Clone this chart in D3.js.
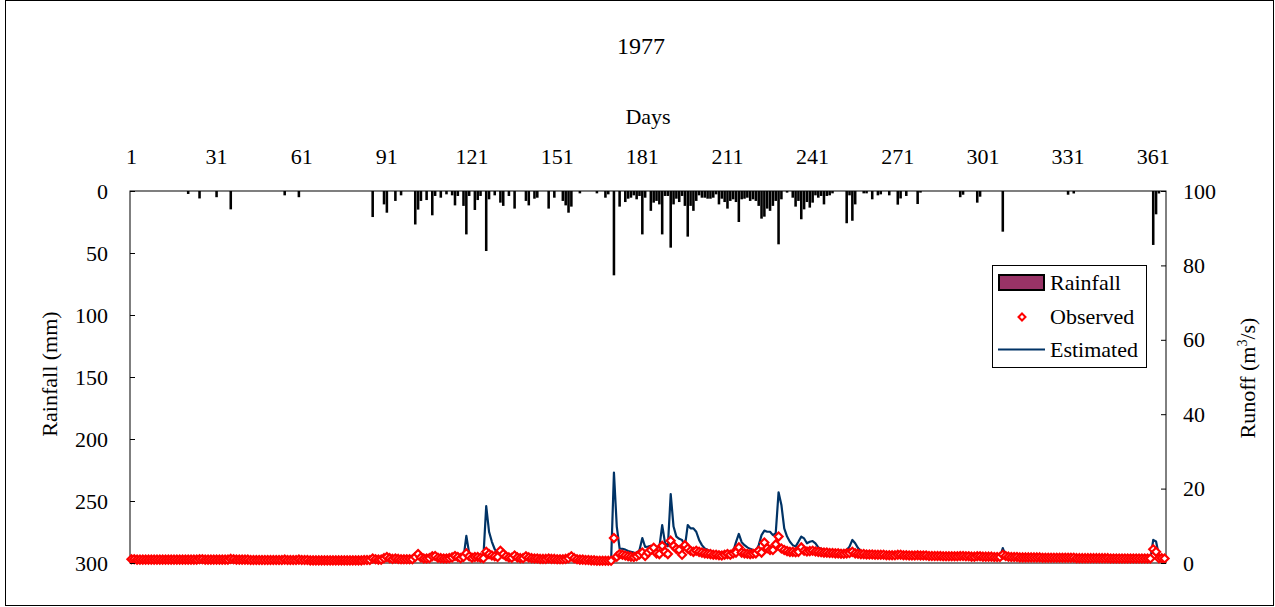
<!DOCTYPE html>
<html><head><meta charset="utf-8">
<script src="https://cdn.jsdelivr.net/npm/d3@7"></script>
<style>
body{margin:0;background:#fff}
svg{display:block}
text{font-family:"Liberation Serif","Times New Roman",serif;fill:#000}
</style>
</head><body>
<svg id="c" width="1275" height="607"></svg>
<script>
// ---------------- DATA ----------------
const title = "1977";
const dayTicks = [1,31,61,91,121,151,181,211,241,271,301,331,361];
const rainTicks = [0,50,100,150,200,250,300];
const runoffTicks = [0,20,40,60,80,100];

// daily rainfall (mm): days with rain and their depth
const rainDays = [21,25,31,36,55,60,86,90,91,94,96,101,102,103,105,107,108,110,112,114,115,116,118,119,120,122,123,124,126,127,129,131,132,134,136,140,141,143,144,148,150,153,154,155,156,159,165,168,169,171,173,175,176,177,178,179,180,181,182,184,185,186,187,188,189,190,191,192,193,194,195,196,197,198,199,200,201,202,203,204,205,206,207,208,209,210,211,212,213,214,215,216,217,218,219,220,221,222,223,224,225,226,227,228,229,230,232,234,235,236,237,238,239,240,241,242,243,244,245,246,247,248,253,254,255,256,259,260,262,264,265,268,271,272,274,278,279,293,294,299,300,308,331,333,361,362,363];
const rainMm = [2.4,6,5,14.8,3.5,5,21,10.8,17.5,8,3.5,27,15,8,7.3,19.6,4,5.4,2.7,3.5,11.6,4,12,35,4,15.3,7.3,4,48.4,6.7,3.5,9.4,12,4,14.2,8,11.6,6.2,5.4,14.2,5.4,8,11.6,17.5,12.6,1.9,1.9,5.4,2.7,68,12.6,8.9,6.2,5.4,3.5,6.7,4,35,5.4,16,9.4,8,10.8,35,4,4,45.7,10.8,6.2,8.9,4,12,36.8,12,16,8,3.5,5.4,5.4,6.2,6.2,5.4,2.7,10.8,6.2,8.9,14.2,8,6.7,8.9,25,6.7,6.2,5.4,8,6.7,8,12,22.3,20.7,14.2,16,12,8,43,6.7,1.3,5.4,12.6,8,22.8,14.8,8.9,13.4,9.4,3.5,5.4,4,10.8,4,3.5,1.9,26,3.5,24,10.8,1.9,1.9,6.7,3.5,2.7,3.5,11,6,4,10.5,1.3,5,3,9.4,4.6,32.8,3,2,43.5,18.8,2];

// observed runoff (m3/s), days 1..365
const observed = [
1.0,1.0,0.9,0.9,0.9,0.9,0.9,0.9,0.9,0.9,
0.9,0.9,0.9,0.9,0.9,0.9,0.9,0.9,0.9,0.9,
0.9,0.9,0.9,0.9,1.0,1.0,0.9,0.9,0.9,0.9,
0.9,0.9,0.9,0.9,0.9,1.1,1.0,0.9,0.9,0.9,
0.9,0.9,0.8,0.8,0.8,0.8,0.8,0.8,0.8,0.8,
0.8,0.8,0.8,0.8,0.9,0.8,0.8,0.8,0.8,0.9,
0.8,0.8,0.8,0.7,0.7,0.7,0.7,0.7,0.7,0.7,
0.7,0.7,0.7,0.7,0.7,0.7,0.7,0.7,0.7,0.7,
0.7,0.7,0.8,0.8,0.8,1.2,1.0,0.9,0.9,1.3,
1.6,1.3,1.1,1.2,1.1,1.0,1.0,1.0,1.0,1.0,
1.6,2.4,1.5,1.2,1.2,1.3,1.8,1.9,1.4,1.3,
1.2,1.2,1.3,1.5,1.9,1.6,1.3,1.6,2.6,1.8,
1.4,1.6,1.6,1.4,1.3,3.0,2.4,2.0,1.8,1.6,
3.3,2.4,1.8,1.5,1.4,2.0,1.5,1.3,1.3,1.8,
1.5,1.3,1.2,1.2,1.1,1.1,1.1,1.2,1.1,1.1,
1.0,1.0,1.0,1.1,1.3,1.8,1.3,1.0,0.9,0.9,
0.8,0.8,0.7,0.7,0.6,0.6,0.6,0.6,0.6,0.6,
6.7,1.7,2.4,2.2,2.0,1.8,1.7,1.6,1.8,2.3,
2.8,1.9,2.8,3.5,4.1,2.6,2.4,4.6,3.0,2.4,
6.0,4.6,3.8,3.5,2.2,4.8,3.9,3.3,3.0,3.3,
3.0,2.8,2.6,2.5,2.4,2.2,2.2,2.1,2.0,2.2,
2.4,2.2,2.6,2.8,4.2,2.8,2.6,2.5,2.4,2.5,
2.6,3.3,2.8,5.5,4.0,3.5,3.5,5.0,7.1,3.9,
3.5,3.2,3.0,3.0,2.9,3.0,4.2,3.3,3.1,3.2,
3.3,3.1,3.0,2.9,2.8,2.8,2.7,2.7,2.6,2.6,
2.5,2.5,2.6,2.7,3.0,2.6,2.5,2.4,2.4,2.3,
2.3,2.3,2.2,2.2,2.2,2.2,2.1,2.1,2.1,2.1,
2.2,2.2,2.1,2.1,2.0,2.0,2.0,2.1,2.0,2.0,
2.0,1.9,1.9,1.9,1.9,1.9,1.8,1.8,1.8,1.8,
1.8,1.8,1.9,1.9,1.8,1.8,1.7,1.7,1.8,1.8,
1.7,1.7,1.7,1.7,1.6,1.6,1.6,2.2,1.9,1.7,
1.6,1.6,1.6,1.5,1.5,1.5,1.5,1.5,1.5,1.5,
1.5,1.4,1.4,1.4,1.4,1.4,1.4,1.4,1.4,1.4,
1.4,1.4,1.4,1.3,1.3,1.3,1.3,1.3,1.3,1.3,
1.3,1.3,1.3,1.3,1.3,1.2,1.2,1.2,1.2,1.2,
1.2,1.2,1.2,1.2,1.2,1.2,1.2,1.2,1.2,1.2,
3.7,3.0,1.3,1.3,1.2];

// estimated runoff (m3/s), days 1..365
const estimated = [
0.9,0.9,0.9,0.9,0.9,0.9,0.9,0.9,0.9,0.9,
0.9,0.9,0.9,0.9,0.9,0.9,0.9,0.9,0.9,0.9,
0.9,0.9,0.9,0.9,1.0,0.9,0.9,0.9,0.9,0.9,
0.9,0.9,0.9,0.9,0.9,1.2,1.0,0.9,0.9,0.9,
0.8,0.8,0.8,0.8,0.8,0.8,0.8,0.8,0.8,0.8,
0.8,0.8,0.8,0.8,0.9,0.8,0.8,0.8,0.8,0.9,
0.8,0.7,0.7,0.7,0.7,0.7,0.7,0.7,0.7,0.7,
0.7,0.7,0.7,0.7,0.7,0.7,0.7,0.7,0.7,0.7,
0.7,0.7,0.7,0.7,0.7,1.3,0.9,0.8,0.8,1.2,
1.7,1.2,1.0,1.2,1.0,1.0,0.9,0.9,0.9,0.9,
1.8,3.3,1.6,1.2,1.3,1.2,1.8,1.5,1.2,1.3,
1.1,1.1,1.1,1.2,1.6,1.3,1.1,1.4,7.3,2.6,
1.8,1.7,1.5,1.3,1.5,15.3,8.4,5.7,3.7,2.6,
2.2,1.9,1.6,1.4,1.3,1.6,1.3,1.2,1.1,1.3,
1.3,1.1,1.1,1.1,1.0,1.0,1.0,1.2,1.0,1.0,
0.9,0.9,0.9,1.0,1.2,1.5,1.1,0.9,0.8,0.8,
0.7,0.7,0.6,0.6,0.6,0.5,0.6,0.6,0.5,0.5,
24.3,9.8,3.9,3.8,3.6,3.2,3.0,2.8,2.7,3.5,
6.7,4.3,4.4,4.6,4.5,4.3,4.2,10.2,5.4,4.5,
18.5,9.8,7.1,6.5,6.2,4.4,10.2,9.3,9.3,8.4,
6.2,4.8,3.9,3.5,3.2,3.0,2.9,2.8,2.8,2.8,
2.8,2.9,3.0,5.6,7.8,5.6,4.8,4.2,3.8,3.5,
3.3,4.8,7.5,8.7,8.4,8.4,7.5,8.0,19.0,15.6,
9.3,7.1,5.7,4.8,4.4,5.7,7.1,6.6,5.3,5.7,
5.9,5.3,4.2,3.8,3.5,3.3,3.2,3.1,3.0,3.0,
3.0,3.0,3.5,4.4,6.2,5.3,4.0,3.2,2.9,2.7,
2.6,2.6,2.5,2.5,2.4,2.4,2.3,2.3,2.2,2.2,
2.3,2.3,2.2,2.2,2.1,2.1,2.0,2.1,2.0,2.0,
1.9,1.9,1.9,1.9,1.8,1.8,1.8,1.8,1.8,1.8,
1.8,1.7,1.8,1.8,1.7,1.7,1.7,1.7,1.8,1.8,
1.7,1.6,1.6,1.6,1.6,1.5,1.6,4.0,1.9,1.7,
1.5,1.5,1.5,1.5,1.5,1.4,1.4,1.4,1.4,1.4,
1.4,1.4,1.4,1.3,1.3,1.3,1.3,1.3,1.3,1.3,
1.3,1.3,1.3,1.3,1.2,1.2,1.2,1.2,1.2,1.2,
1.2,1.2,1.2,1.2,1.2,1.2,1.2,1.1,1.1,1.1,
1.1,1.1,1.1,1.1,1.1,1.1,1.1,1.1,1.1,1.1,
6.2,5.8,2.0,1.6,1.5];

const legendLabels = ["Rainfall","Observed","Estimated"];

// ---------------- CHART ----------------
(function () {
const days = d3.range(1, 366);
const svg = d3.select('#c');
const L = 130, R = 1166, T = 191, B = 563;

const x = d3.scaleBand().domain(days).range([L, R]).padding(0);
const bw = x.bandwidth();
const yRain = d3.scaleLinear().domain([0, 300]).range([T, B]);
const yRun = d3.scaleLinear().domain([0, 100]).range([B, T]);

// outer frame
svg.append('rect').attr('x', 5.5).attr('y', 0.5).attr('width', 1268).attr('height', 605)
  .attr('fill', 'none').attr('stroke', '#000').attr('stroke-width', 1);

// plot frame
svg.append('rect').attr('x', L).attr('y', T).attr('width', R - L).attr('height', B - T)
  .attr('fill', 'none').attr('stroke', '#000').attr('stroke-width', 1);

// rainfall bars
const rain = rainDays.map((d, i) => ({day: d, v: rainMm[i]}));
svg.append('g').selectAll('rect').data(rain).join('rect')
  .attr('x', d => x(d.day) + bw * 0.05)
  .attr('width', bw * 0.9)
  .attr('y', T)
  .attr('height', d => yRain(d.v) - T)
  .attr('fill', '#000');

// estimated line
const line = d3.line().x((d, i) => x(days[i]) + bw / 2).y(d => yRun(d));
svg.append('path').datum(estimated).attr('d', line)
  .attr('fill', 'none').attr('stroke', '#003366').attr('stroke-width', 2.2)
  .attr('stroke-linejoin', 'round');

// observed diamonds
const dia = 'M0,-4L4,0L0,4L-4,0Z';
svg.append('g').selectAll('path').data(observed).join('path')
  .attr('d', dia)
  .attr('transform', (d, i) => `translate(${x(days[i]) + bw / 2},${yRun(d)})`)
  .attr('fill', '#fff').attr('stroke', '#ff0000').attr('stroke-width', 2.2);

// axes
const fs = '22px';
const gTop = svg.append('g').attr('transform', `translate(0,${T})`)
  .call(d3.axisTop(x).tickValues(dayTicks).tickSize(0).tickPadding(27));
gTop.select('.domain').remove();
gTop.selectAll('text').style('font-size', fs).style('font-family', '"Liberation Serif",serif');

const gLeft = svg.append('g').attr('transform', `translate(${L},0)`)
  .call(d3.axisLeft(yRain).tickValues(rainTicks).tickSizeInner(-5).tickSizeOuter(0).tickPadding(22));
gLeft.select('.domain').remove();
gLeft.selectAll('text').style('font-size', fs).style('font-family', '"Liberation Serif",serif');

const gRight = svg.append('g').attr('transform', `translate(${R},0)`)
  .call(d3.axisRight(yRun).tickValues(runoffTicks).tickSizeInner(-5).tickSizeOuter(0).tickPadding(17));
gRight.select('.domain').remove();
gRight.selectAll('text').style('font-size', fs).style('font-family', '"Liberation Serif",serif');

// titles
svg.append('text').attr('x', 641).attr('y', 54).attr('text-anchor', 'middle')
  .style('font-size', '24px').text(title);
svg.append('text').attr('x', 648).attr('y', 124).attr('text-anchor', 'middle')
  .style('font-size', '22px').text('Days');
svg.append('text').attr('transform', 'translate(57,374) rotate(-90)').attr('text-anchor', 'middle')
  .style('font-size', '22px').text('Rainfall (mm)');
const rt = svg.append('text').attr('transform', 'translate(1255,378) rotate(-90)').attr('text-anchor', 'middle')
  .style('font-size', '22px');
rt.append('tspan').text('Runoff (m');
rt.append('tspan').attr('dy', -8).style('font-size', '14px').text('3');
rt.append('tspan').attr('dy', 8).text('/s)');

// legend
const lg = svg.append('g');
lg.append('rect').attr('x', 992.5).attr('y', 265.5).attr('width', 154).attr('height', 102)
  .attr('fill', '#fff').attr('stroke', '#000');
lg.append('rect').attr('x', 999).attr('y', 275).attr('width', 45).attr('height', 15)
  .attr('fill', '#993366').attr('stroke', '#000').attr('stroke-width', 2);
lg.append('path').attr('d', 'M0,-3.5L3.5,0L0,3.5L-3.5,0Z').attr('transform', 'translate(1022,317)')
  .attr('fill', '#fff').attr('stroke', '#ff0000').attr('stroke-width', 2);
lg.append('line').attr('x1', 998).attr('x2', 1045).attr('y1', 349.5).attr('y2', 349.5)
  .attr('stroke', '#003366').attr('stroke-width', 2);
lg.selectAll('text.lab').data(legendLabels).join('text').attr('class', 'lab')
  .attr('x', 1050).attr('y', (d, i) => 290 + i * 33.5)
  .style('font-size', '22px').text(d => d);
})();
</script>
</body></html>
